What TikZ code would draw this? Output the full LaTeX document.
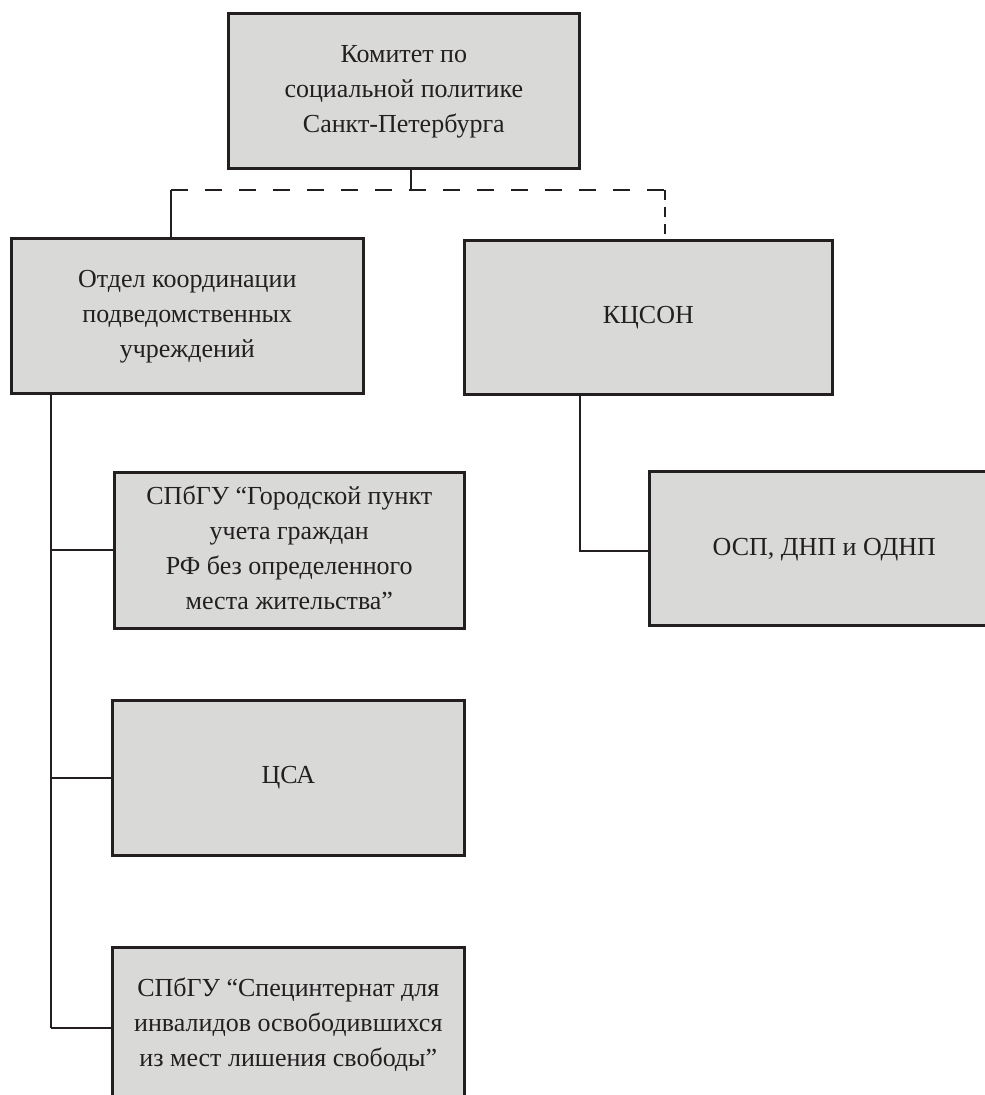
\documentclass[tikz,border=0pt]{standalone}
\usepackage{fontspec}
\setmainfont{Liberation Serif}
\usetikzlibrary{positioning}
\usetikzlibrary{calc}

\definecolor{boxgray}{HTML}{D9D9D8}
\definecolor{inkdark}{HTML}{231F20}

% lines of a box, lifted a little above the middle
\newcommand{\boxlines}[2]{\raisebox{#1}{\begin{tabular}{@{}c@{}}#2\end{tabular}}}

\tikzset{
  orgbox/.style={draw=inkdark, line width=2.6pt, fill=boxgray, text=inkdark,
    anchor=north west, inner sep=0pt,
    font=\fontsize{26}{35}\selectfont},
  link/.style={draw=inkdark, line width=2pt},
  dashlink/.style={link, dash pattern=on 17pt off 17pt},
  dashdown/.style={link, dash pattern=on 10pt off 7pt}
}

\begin{document}
\begin{tikzpicture}[x=1pt,y=-1pt]
\useasboundingbox (0,0) rectangle (985,1095);

%top committee
\node[orgbox, minimum width=351pt, minimum height=155pt] (komitet) at (227,12)
  {\boxlines{8pt}{Комитет по\\социальной политике\\Санкт-Петербурга}};

%second level
\node[orgbox, minimum width=352pt, minimum height=155pt] (otdel) at (10,237)
  {\boxlines{9pt}{Отдел координации\\подведомственных\\учреждений}};
\node[orgbox, minimum width=368pt, minimum height=154pt] (kcson) at (463,239)
  {КЦСОН};

%under otdel
\node[orgbox, minimum width=350pt, minimum height=156pt] (punkt) at (113,471)
  {\boxlines{4pt}{СПбГУ “Городской пункт\\учета граждан\\РФ без определенного\\места жительства”}};
\node[orgbox, minimum width=352pt, minimum height=155pt] (csa) at (111,699)
  {\boxlines{13pt}{ЦСА}};
\node[orgbox, minimum width=352pt, minimum height=155pt] (internat) at (111,946)
  {\boxlines{5pt}{СПбГУ “Специнтернат для\\инвалидов освободившихся\\из мест лишения свободы”}};

%under kcson
\node[orgbox, minimum width=350pt, minimum height=154pt] (osp) at (648,470)
  {\boxlines{7pt}{ОСП, ДНП и ОДНП}};

%bus under the committee
\coordinate (bus) at (411,190);
\coordinate (busL) at (171,190);
\coordinate (busR) at (665,190);
\draw[link] (komitet.south -| bus) -- (bus);
\draw[dashlink] (busL) -- (busR);
\draw[link] (busL) -- (otdel.north -| busL);
\draw[dashdown] (busR) -- (kcson.north -| busR);

%left trunk
\coordinate (trunk) at (51,1028);
\draw[link] (otdel.south -| trunk) -- (trunk);
\draw[link] (trunk |- punkt.west) -- (punkt.west);
\draw[link] (trunk |- csa.west) -- (csa.west);
\draw[link] (trunk) -- (trunk -| internat.west);

%right trunk
\coordinate (ktrunk) at (580,551);
\draw[link] (kcson.south -| ktrunk) -- (ktrunk) -- (osp.west |- ktrunk);

\end{tikzpicture}
\end{document}
